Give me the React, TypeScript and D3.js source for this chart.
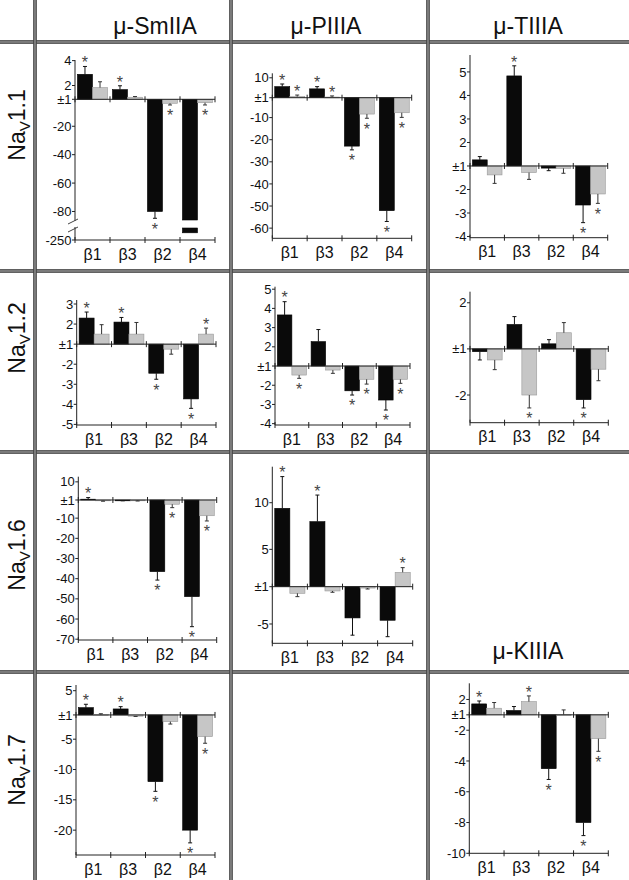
import React from 'react';
import * as d3 from 'd3';

// ---------- categories / labels ----------
const categories = ['β1', 'β3', 'β2', 'β4'];
const toxinHeaders = ['μ-SmIIA', 'μ-PIIIA', 'μ-TIIIA', 'μ-KIIIA'];
const channelLabels = ['1.1', '1.2', '1.6', '1.7'];

// ---------- data (fold change, order β1, β3, β2, β4) ----------
// μ-SmIIA on NaV1.1
const smIIA_11_black = [2.9, 1.7, -80, -232];
const smIIA_11_blackSem = [0.63, 0.28, 4.8, 0];
const smIIA_11_blackSig = [1, 1, 1, 0];
const smIIA_11_gray = [1.85, 1.15, -3.8, -3.4];
const smIIA_11_graySem = [0.45, 0.05, 1.2, 1.6];
const smIIA_11_graySig = [0, 0, 1, 1];
const smIIA_11_ticks = [4, 2, 1, -20, -40, -60, -80, -250];

// μ-PIIIA on NaV1.1
const pIIIA_11_black = [6.0, 5.0, -22.9, -52.1];
const pIIIA_11_blackSem = [1.2, 1.0, 1.7, 4.9];
const pIIIA_11_blackSig = [1, 1, 1, 1];
const pIIIA_11_gray = [1.5, 1.3, -8.4, -7.8];
const pIIIA_11_graySem = [0.7, 0.5, 1.9, 2.1];
const pIIIA_11_graySig = [1, 1, 1, 1];
const pIIIA_11_ticks = [10, 1, -10, -20, -30, -40, -50, -60];

// μ-TIIIA on NaV1.1
const tIIIA_11_black = [1.26, 4.83, -1.09, -2.66];
const tIIIA_11_blackSem = [0.14, 0.43, 0.11, 0.75];
const tIIIA_11_blackSig = [0, 1, 0, 1];
const tIIIA_11_gray = [-1.38, -1.28, -1.1, -2.19];
const tIIIA_11_graySem = [0.36, 0.29, 0.21, 0.4];
const tIIIA_11_graySig = [0, 0, 0, 1];
const tIIIA_11_ticks = [5, 4, 3, 2, 1, -2, -3, -4];

// μ-SmIIA on NaV1.2
const smIIA_12_black = [2.3, 2.1, -2.45, -3.73];
const smIIA_12_blackSem = [0.3, 0.23, 0.3, 0.47];
const smIIA_12_blackSig = [1, 1, 1, 1];
const smIIA_12_gray = [1.5, 1.5, -1.25, 1.5];
const smIIA_12_graySem = [0.47, 0.58, 0.25, 0.3];
const smIIA_12_graySig = [0, 0, 0, 1];
const smIIA_12_ticks = [3, 2, 1, -2, -3, -4, -5];

// μ-PIIIA on NaV1.2
const pIIIA_12_black = [3.66, 2.27, -2.29, -2.77];
const pIIIA_12_blackSem = [0.69, 0.63, 0.22, 0.52];
const pIIIA_12_blackSig = [1, 0, 1, 1];
const pIIIA_12_gray = [-1.47, -1.21, -1.69, -1.69];
const pIIIA_12_graySem = [0.17, 0.17, 0.25, 0.21];
const pIIIA_12_graySig = [1, 0, 1, 1];
const pIIIA_12_ticks = [5, 4, 3, 2, 1, -2, -3, -4];

// μ-TIIIA on NaV1.2
const tIIIA_12_black = [-1.06, 1.53, 1.11, -2.1];
const tIIIA_12_blackSem = [0.18, 0.17, 0.09, 0.18];
const tIIIA_12_blackSig = [0, 0, 0, 1];
const tIIIA_12_gray = [-1.24, -2.0, 1.35, -1.44];
const tIIIA_12_graySem = [0.21, 0.28, 0.22, 0.25];
const tIIIA_12_graySig = [0, 1, 0, 0];
const tIIIA_12_ticks = [2, 1, -2];

// μ-SmIIA on NaV1.6
const smIIA_16_black = [1.4, -1.2, -36.5, -48.9];
const smIIA_16_blackSem = [0.8, 0.2, 4.2, 14.9];
const smIIA_16_blackSig = [1, 0, 1, 1];
const smIIA_16_gray = [-1.3, -1.3, -3.1, -8.8];
const smIIA_16_graySem = [0.3, 0.2, 1.7, 2.6];
const smIIA_16_graySig = [0, 0, 1, 1];
const smIIA_16_ticks = [10, 1, -10, -20, -30, -40, -50, -60, -70];

// μ-PIIIA on NaV1.6
const pIIIA_16_black = [9.4, 7.97, -4.35, -4.6];
const pIIIA_16_blackSem = [3.4, 2.85, 1.85, 1.76];
const pIIIA_16_blackSig = [1, 1, 0, 0];
const pIIIA_16_gray = [-1.71, -1.46, -1.15, 2.54];
const pIIIA_16_graySem = [0.36, 0.14, 0.1, 0.5];
const pIIIA_16_graySig = [0, 0, 0, 1];
const pIIIA_16_ticks = [10, 5, 1, -5];

// μ-SmIIA on NaV1.7
const smIIA_17_black = [2.2, 1.99, -12, -20];
const smIIA_17_blackSem = [0.56, 0.38, 1.6, 2.1];
const smIIA_17_blackSig = [1, 1, 1, 1];
const smIIA_17_gray = [1.05, -1.2, -2.1, -4.57];
const smIIA_17_graySem = [0.15, 0.05, 0.4, 1.1];
const smIIA_17_graySig = [0, 0, 0, 1];
const smIIA_17_ticks = [5, 1, -5, -10, -15, -20];

// μ-KIIIA on NaV1.7
const kIIIA_17_black = [1.71, 1.28, -4.5, -8.0];
const kIIIA_17_blackSem = [0.19, 0.26, 0.7, 0.85];
const kIIIA_17_blackSig = [1, 0, 1, 1];
const kIIIA_17_gray = [1.43, 1.86, 1.02, -2.55];
const kIIIA_17_graySem = [0.37, 0.37, 0.3, 0.82];
const kIIIA_17_graySig = [0, 1, 0, 1];
const kIIIA_17_ticks = [2, 1, -2, -4, -6, -8, -10];

// ---------- layout (positions only) ----------
const W = 629;
const H = 880;
const FONT = '"Liberation Sans", Arial, Helvetica, sans-serif';

const hDividers = [42, 271, 452, 672];
const vDividers = [35, 231, 428];
const headerPos = [
  { x: 155, y: 34 },
  { x: 326, y: 34 },
  { x: 528, y: 34 },
  { x: 528, y: 659 },
];
const rowLabelPos = [125, 338, 555, 770];

type Layout = {
  left: number; right: number; top: number; bottom: number;
  yMin: number; yMax: number;
  brk?: { lo: number; hi: number; yLo: number; yHi: number; y0: number; two: number };
};

const panels = [
  {
    black: smIIA_11_black, blackSem: smIIA_11_blackSem, blackSig: smIIA_11_blackSig,
    gray: smIIA_11_gray, graySem: smIIA_11_graySem, graySig: smIIA_11_graySig, ticks: smIIA_11_ticks,
    layout: { left: 75, right: 215, top: 60, bottom: 240, yMin: -250, yMax: 4.05,
      brk: { lo: -220, hi: -86, yLo: 228, yHi: 220, y0: 99.3, two: 85.5 } } as Layout,
  },
  {
    black: pIIIA_11_black, blackSem: pIIIA_11_blackSem, blackSig: pIIIA_11_blackSig,
    gray: pIIIA_11_gray, graySem: pIIIA_11_graySem, graySig: pIIIA_11_graySig, ticks: pIIIA_11_ticks,
    layout: { left: 272.3, right: 411.7, top: 73.3, bottom: 238.3, yMin: -64.6, yMax: 12.04 } as Layout,
  },
  {
    black: tIIIA_11_black, blackSem: tIIIA_11_blackSem, blackSig: tIIIA_11_blackSig,
    gray: tIIIA_11_gray, graySem: tIIIA_11_graySem, graySig: tIIIA_11_graySig, ticks: tIIIA_11_ticks,
    layout: { left: 470, right: 607.7, top: 55, bottom: 237.7, yMin: -4.05, yMax: 5.72 } as Layout,
  },
  {
    black: smIIA_12_black, blackSem: smIIA_12_blackSem, blackSig: smIIA_12_blackSig,
    gray: smIIA_12_gray, graySem: smIIA_12_graySem, graySig: smIIA_12_graySig, ticks: smIIA_12_ticks,
    layout: { left: 76.7, right: 216, top: 300, bottom: 425, yMin: -5.03, yMax: 3.2 } as Layout,
  },
  {
    black: pIIIA_12_black, blackSem: pIIIA_12_blackSem, blackSig: pIIIA_12_blackSig,
    gray: pIIIA_12_gray, graySem: pIIIA_12_graySem, graySig: pIIIA_12_graySig, ticks: pIIIA_12_ticks,
    layout: { left: 275, right: 410, top: 286.7, bottom: 425, yMin: -4.07, yMax: 5.13 } as Layout,
  },
  {
    black: tIIIA_12_black, blackSem: tIIIA_12_blackSem, blackSig: tIIIA_12_blackSig,
    gray: tIIIA_12_gray, graySem: tIIIA_12_graySem, graySig: tIIIA_12_graySig, ticks: tIIIA_12_ticks,
    layout: { left: 470, right: 608.3, top: 291.7, bottom: 422.7, yMin: -2.6, yMax: 2.24 } as Layout,
  },
  {
    black: smIIA_16_black, blackSem: smIIA_16_blackSem, blackSig: smIIA_16_blackSig,
    gray: smIIA_16_gray, graySem: smIIA_16_graySem, graySig: smIIA_16_graySig, ticks: smIIA_16_ticks,
    layout: { left: 78.3, right: 216.7, top: 476.7, bottom: 640, yMin: -70.4, yMax: 12.55 } as Layout,
  },
  {
    black: pIIIA_16_black, blackSem: pIIIA_16_blackSem, blackSig: pIIIA_16_blackSig,
    gray: pIIIA_16_gray, graySem: pIIIA_16_graySem, graySig: pIIIA_16_graySig, ticks: pIIIA_16_ticks,
    layout: { left: 272.3, right: 412.7, top: 466.7, bottom: 643.3, yMin: -7.07, yMax: 13.86 } as Layout,
  },
  {
    black: smIIA_17_black, blackSem: smIIA_17_blackSem, blackSig: smIIA_17_blackSig,
    gray: smIIA_17_gray, graySem: smIIA_17_graySem, graySig: smIIA_17_graySig, ticks: smIIA_17_ticks,
    layout: { left: 76, right: 215, top: 685, bottom: 855, yMin: -24.1, yMax: 5.94 } as Layout,
  },
  {
    black: kIIIA_17_black, blackSem: kIIIA_17_blackSem, blackSig: kIIIA_17_blackSig,
    gray: kIIIA_17_gray, graySem: kIIIA_17_graySem, graySig: kIIIA_17_graySig, ticks: kIIIA_17_ticks,
    layout: { left: 469.3, right: 608.3, top: 683.3, bottom: 853.3, yMin: -10, yMax: 3.05 } as Layout,
  },
];

function makeY(L: Layout) {
  if (L.brk) {
    return d3.scaleLinear()
      .domain([L.yMin, L.brk.lo, L.brk.hi, -1, 1, 2, L.yMax])
      .range([L.bottom, L.brk.yLo, L.brk.yHi, L.brk.y0, L.brk.y0, L.brk.two, L.top]);
  }
  const tMin = L.yMin + 1;
  const tMax = L.yMax - 1;
  const y0 = L.bottom - (-tMin) / (tMax - tMin) * (L.bottom - L.top);
  return d3.scaleLinear().domain([L.yMin, -1, 1, L.yMax]).range([L.bottom, y0, y0, L.top]);
}

function Panel({ p }: { p: any }) {
  const L: Layout = p.layout;
  const y = makeY(L);
  const x = d3.scaleBand().domain(categories).range([L.left, L.right]);
  const bw = x.bandwidth();
  const sub = d3.scaleBand().domain(['black', 'gray']).range([bw * 0.07, bw * 0.93]);
  const zeroY = y(1);
  const series = [
    { key: 'black', vals: p.black, sem: p.blackSem, sig: p.blackSig, fill: '#0a0a0a', stroke: '#000', err: '#111' },
    { key: 'gray', vals: p.gray, sem: p.graySem, sig: p.graySig, fill: '#c6c6c6', stroke: '#999', err: '#333' },
  ];
  const boundaries = [...categories.map((c) => x(c) as number), L.right];
  const els: any[] = [];

  series.forEach((s) => {
    categories.forEach((c, i) => {
      const v = s.vals[i];
      const bx = (x(c) as number) + (sub(s.key) as number);
      const w = sub.bandwidth();
      const cx = bx + w / 2;
      const yv = y(v);
      if (L.brk && v < L.brk.hi) {
        const yA = y(L.brk.hi);
        const yB = y(L.brk.lo);
        els.push(<rect key={`b${s.key}${i}a`} x={bx} y={zeroY} width={w} height={yA - zeroY} fill={s.fill} stroke={s.stroke} strokeWidth={0.6} />);
        els.push(<rect key={`b${s.key}${i}b`} x={bx} y={yB} width={w} height={yv - yB} fill={s.fill} stroke={s.stroke} strokeWidth={0.6} />);
      } else {
        els.push(
          <rect key={`b${s.key}${i}`} x={bx} y={Math.min(zeroY, yv)} width={w}
            height={Math.max(0.8, Math.abs(yv - zeroY))} fill={s.fill} stroke={s.stroke} strokeWidth={0.6} />
        );
      }
      const sem = s.sem[i];
      const end = v > 0 ? v + sem : v - sem;
      const ye = y(end);
      if (sem > 0) {
        els.push(<line key={`e${s.key}${i}`} x1={cx} x2={cx} y1={yv} y2={ye} stroke={s.err} strokeWidth={1} />);
        els.push(<line key={`c${s.key}${i}`} x1={cx - 2} x2={cx + 2} y1={ye} y2={ye} stroke={s.err} strokeWidth={1} />);
      }
      if (s.sig[i]) {
        const cy = v > 0 ? ye - 7 : ye + 7.5;
        els.push(
          <text key={`s${s.key}${i}`} x={cx} y={cy + 8.8} textAnchor="middle" fontSize={16}
            fontFamily={FONT} fill="#444">*</text>
        );
      }
    });
  });

  const axis: any[] = [];
  if (L.brk) {
    const yA = y(L.brk.hi);
    const yB = y(L.brk.lo);
    axis.push(<line key="ya1" x1={L.left} x2={L.left} y1={L.top} y2={yA + 1} stroke="#222" strokeWidth={1} />);
    axis.push(<line key="ya2" x1={L.left} x2={L.left} y1={yB - 1} y2={L.bottom} stroke="#222" strokeWidth={1} />);
    axis.push(<line key="br1" x1={L.left - 7} x2={L.left + 3} y1={yA + 4} y2={yA - 1} stroke="#444" strokeWidth={1} />);
    axis.push(<line key="br2" x1={L.left - 7} x2={L.left + 3} y1={yB + 4} y2={yB - 1} stroke="#444" strokeWidth={1} />);
  } else {
    axis.push(<line key="ya" x1={L.left} x2={L.left} y1={L.top} y2={L.bottom} stroke="#222" strokeWidth={1} />);
  }
  p.ticks.forEach((t: number) => {
    const ty = y(t);
    axis.push(<line key={`t${t}`} x1={L.left - 3} x2={L.left} y1={ty} y2={ty} stroke="#222" strokeWidth={1} />);
    axis.push(
      <text key={`tl${t}`} x={L.left - 3.5} y={ty + 4.6} textAnchor="end" fontSize={13} fontFamily={FONT} fill="#111">
        {t === 1 ? '±1' : String(t)}
      </text>
    );
  });
  // zero line & bottom axis
  axis.push(<line key="zl" x1={L.left} x2={L.right} y1={zeroY} y2={zeroY} stroke="#222" strokeWidth={1} />);
  axis.push(<line key="xa" x1={L.left} x2={L.right} y1={L.bottom} y2={L.bottom} stroke="#222" strokeWidth={1} />);
  boundaries.forEach((bx, i) => {
    axis.push(<line key={`zt${i}`} x1={bx} x2={bx} y1={zeroY - 3} y2={zeroY + 3} stroke="#222" strokeWidth={1} />);
    axis.push(<line key={`xt${i}`} x1={bx} x2={bx} y1={L.bottom - 3} y2={L.bottom + 3} stroke="#222" strokeWidth={1} />);
  });
  categories.forEach((c) => {
    axis.push(
      <text key={`cl${c}`} x={(x(c) as number) + bw / 2} y={L.bottom + 19.5} textAnchor="middle" fontSize={16}
        fontFamily={FONT} fill="#111">{c}</text>
    );
  });

  return <g>{els}{axis}</g>;
}

function Divider({ x1, y1, x2, y2 }: { x1: number; y1: number; x2: number; y2: number }) {
  const horiz = y1 === y2;
  const off = 1.2;
  return (
    <g>
      <line x1={x1} y1={y1} x2={x2} y2={y2} stroke="#9a9a9a" strokeWidth={3} />
      <line x1={horiz ? x1 : x1 - off} y1={horiz ? y1 - off : y1} x2={horiz ? x2 : x2 - off} y2={horiz ? y2 - off : y2} stroke="#333" strokeWidth={1} />
      <line x1={horiz ? x1 : x1 + off} y1={horiz ? y1 + off : y1} x2={horiz ? x2 : x2 + off} y2={horiz ? y2 + off : y2} stroke="#333" strokeWidth={1} />
    </g>
  );
}

export default function App() {
  return (
    <svg width={W} height={H} viewBox={`0 0 ${W} ${H}`}
      style={{ position: 'absolute', left: 0, top: 0, background: '#fff', display: 'block' }}>
      <rect x={0} y={0} width={W} height={H} fill="#fff" />
      {hDividers.map((hy) => <Divider key={`h${hy}`} x1={0} y1={hy} x2={W} y2={hy} />)}
      {vDividers.map((vx) => <Divider key={`v${vx}`} x1={vx} y1={0} x2={vx} y2={H} />)}
      {toxinHeaders.map((t, i) => (
        <text key={t} x={headerPos[i].x} y={headerPos[i].y} textAnchor="middle" fontSize={23}
          fontFamily={FONT} fill="#111">{t}</text>
      ))}
      {channelLabels.map((c, i) => (
        <text key={c} transform={`translate(25,${rowLabelPos[i]}) rotate(-90)`} textAnchor="middle"
          fontSize={23} fontFamily={FONT} fill="#111">
          Na<tspan fontSize={15} dy={5}>V</tspan><tspan dy={-5}>{c}</tspan>
        </text>
      ))}
      {panels.map((p, i) => <Panel key={i} p={p} />)}
    </svg>
  );
}
